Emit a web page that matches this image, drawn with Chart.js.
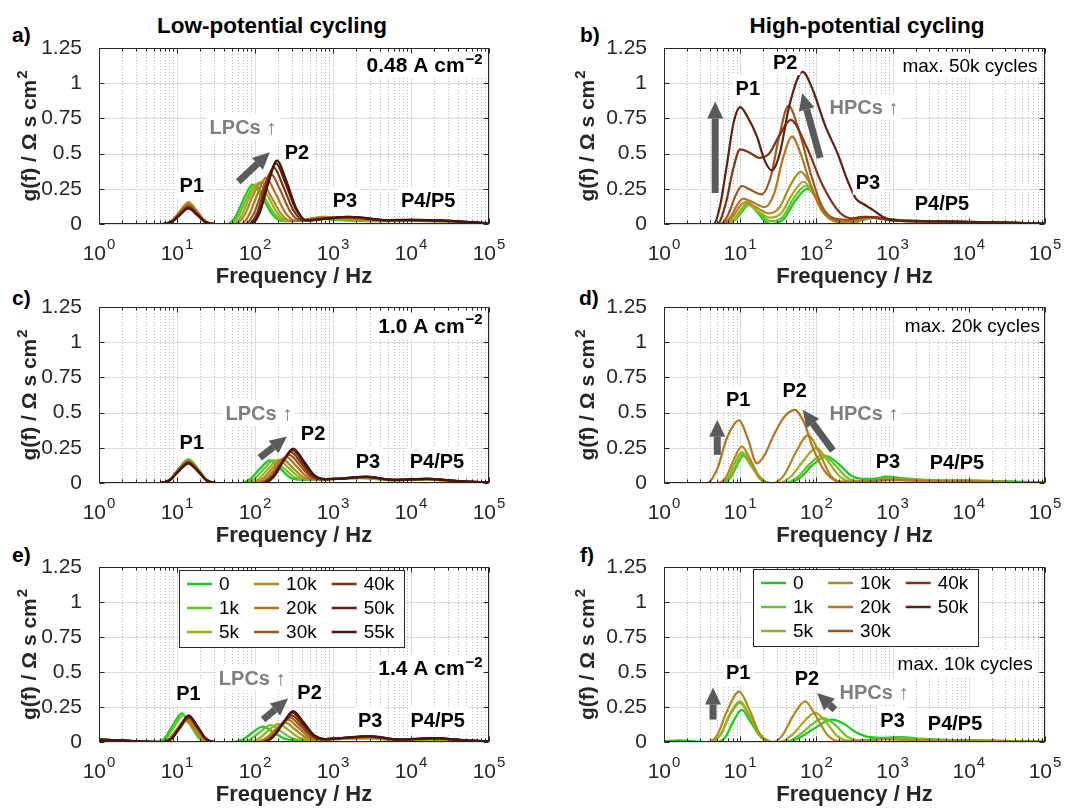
<!DOCTYPE html>
<html>
<head>
<meta charset="utf-8">
<script src="https://cdn.jsdelivr.net/npm/chart.js@4.4.1/dist/chart.umd.min.js"></script>
<style>
body{margin:0;width:1074px;height:808px;overflow:hidden;background:#fff;font-family:"Liberation Sans",Arial,sans-serif}
canvas{position:absolute}
.hd{position:absolute;font-weight:bold;font-size:22.5px;color:#000;white-space:nowrap;transform:translate(-50%,-50%)}
.lt{position:absolute;font-weight:bold;font-size:21px;color:#000;transform:translateY(-50%)}
</style>
</head>
<body>
<div class="hd" style="left:272px;top:26px">Low-potential cycling</div>
<div class="hd" style="left:867px;top:26px">High-potential cycling</div>
<div class="lt" style="left:12px;top:35px">a)</div>
<div class="lt" style="left:580px;top:35px">b)</div>
<div class="lt" style="left:12px;top:298px">c)</div>
<div class="lt" style="left:579px;top:298px">d)</div>
<div class="lt" style="left:12px;top:555px">e)</div>
<div class="lt" style="left:580px;top:555px">f)</div>
<script>
const FONT = '"Liberation Sans", Arial, sans-serif'

// axis ticks
const freqTicks = [1, 10, 100, 1000, 10000, 100000]
const freqExp = ['0', '1', '2', '3', '4', '5']
const gTicks = [0, 0.25, 0.5, 0.75, 1, 1.25]
const gTickLabels = ['0', '0.25', '0.5', '0.75', '1', '1.25']
const xTitle = 'Frequency / Hz'
const yTitle = ['g(f) / Ω s cm', '2']

// cycle numbers and colours (green -> dark brown)
const cycles = ['0', '1k', '5k', '10k', '20k', '30k', '40k', '50k', '55k']
const cycleColors = ['#1ec81e', '#62c62a', '#9fae1c', '#b08a1e', '#b5741f', '#9c5620', '#7e3516', '#5e200f', '#4a140c']

// DRT curves: [frequency in Hz, g(f)], one row per cycle number

// a) low-potential cycling, 0.48 A cm-2
const drtA = [
[[1,0],[6.5,0],[8.5,.018],[11,.084],[14,.14],[18,.084],[23,.018],[31,0],[44,0],[56,.05],[72,.18],[93,.28],[123,.19],[166,.07],[224,.02],[400,.025],[630,.04],[1000,.03],[2000,.022],[4000,.02],[10000,.022],[25000,.018],[50000,.01],[100000,.003]],
[[1,0],[6.5,0],[8.5,.02],[11,.09],[14,.15],[18,.09],[23,.02],[31,0],[47,0],[60,.05],[78,.18],[100,.28],[132,.19],[178,.07],[240,.02],[450,.03],[700,.045],[1100,.035],[2000,.025],[4000,.021],[10000,.023],[25000,.019],[50000,.01],[100000,.003]],
[[1,0],[6.5,0],[8.5,.02],[11,.093],[14,.155],[18,.093],[23,.02],[31,0],[51,0],[66,.052],[85,.19],[110,.29],[145,.2],[195,.073],[263,.02],[480,.035],[750,.05],[1200,.04],[2000,.03],[4000,.022],[10000,.024],[25000,.02],[50000,.011],[100000,.004]],
[[1,0],[6.5,0],[8.5,.02],[11,.09],[14,.15],[18,.09],[23,.02],[31,0],[56,0],[72,.055],[93,.195],[120,.30],[159,.2],[214,.075],[288,.02],[500,.035],[800,.05],[1300,.04],[2000,.032],[4000,.023],[10000,.025],[25000,.021],[50000,.012],[100000,.004]],
[[1,0],[6.5,0],[8.5,.018],[11,.084],[14,.14],[18,.084],[23,.018],[31,0],[65,0],[83,.06],[107,.21],[138,.33],[182,.22],[245,.08],[331,.022],[600,.04],[1000,.045],[1500,.045],[2500,.032],[5000,.024],[10000,.026],[25000,.022],[50000,.012],[100000,.004]],
[[1,0],[6.5,0],[8.5,.017],[11,.078],[14,.13],[18,.078],[23,.017],[31,0],[74,0],[95,.065],[123,.23],[158,.36],[209,.245],[282,.09],[380,.025],[700,.04],[1200,.045],[1800,.046],[3000,.033],[5000,.025],[10000,.027],[25000,.023],[50000,.013],[100000,.004]],
[[1,0],[6.5,0],[8.5,.016],[11,.072],[14,.12],[18,.072],[23,.016],[31,0],[81,0],[105,.07],[135,.26],[174,.40],[229,.27],[309,.10],[417,.025],[800,.04],[1400,.048],[2000,.046],[3000,.036],[5000,.026],[10000,.028],[25000,.024],[50000,.014],[100000,.005]],
[[1,0],[6.5,0],[8.5,.015],[11,.069],[14,.115],[18,.069],[23,.015],[31,0],[87,0],[112,.077],[145,.28],[186,.43],[245,.29],[331,.11],[447,.025],[900,.04],[1500,.05],[2000,.048],[3000,.037],[5000,.027],[10000,.029],[25000,.025],[50000,.015],[100000,.005]],
[[1,0],[6.5,0],[8.5,.014],[11,.066],[14,.11],[18,.066],[23,.014],[31,0],[89,0],[115,.08],[148,.29],[191,.45],[251,.31],[339,.11],[457,.025],[900,.04],[1600,.05],[2200,.048],[3200,.036],[5000,.028],[10000,.03],[25000,.026],[50000,.015],[100000,.005]]
]

// b) high-potential cycling, max. 50k cycles
const drtB = [
[[1,0],[6,0],[9,.04],[11,.1],[13,.135],[17,.08],[21,.02],[26,0],[38,.04],[52,.16],[76,.25],[100,.19],[135,.07],[190,.015],[280,.005],[420,.03],[600,.045],[850,.035],[1200,.03],[2000,.022],[5000,.015],[10000,.013],[30000,.01],[100000,.003]],
[[1,0],[6,0],[9,.04],[11,.11],[13,.14],[17,.09],[25,.02],[36,.05],[50,.18],[72,.27],[95,.2],[130,.07],[180,.015],[270,.005],[420,.035],[580,.045],[800,.035],[1200,.028],[2000,.02],[5000,.014],[10000,.013],[30000,.01],[100000,.003]],
[[1,0],[6,0],[8.5,.04],[10.5,.11],[12.5,.145],[16,.1],[25,.045],[35,.08],[48,.21],[68,.30],[90,.22],[120,.09],[170,.02],[260,.005],[420,.035],[550,.045],[750,.035],[1200,.027],[2000,.02],[5000,.014],[10000,.013],[30000,.01],[100000,.003]],
[[1,0],[5.5,0],[8,.05],[10,.13],[12,.155],[16,.12],[24,.075],[33,.12],[45,.27],[62,.37],[80,.3],[110,.13],[160,.03],[250,.01],[400,.035],[550,.05],[750,.035],[1000,.025],[2000,.018],[5000,.014],[10000,.013],[30000,.01],[100000,.003]],
[[1,0],[5.5,0],[7.5,.05],[9,.13],[11,.18],[14,.16],[21,.12],[28,.22],[37,.48],[48,.62],[62,.5],[85,.27],[120,.09],[170,.03],[280,.02],[450,.045],[650,.04],[1000,.025],[2000,.018],[5000,.015],[10000,.013],[30000,.01],[100000,.003]],
[[1,0],[5.5,0],[7,.07],[8.5,.19],[10.5,.27],[14,.24],[19,.21],[25,.33],[33,.64],[43,.84],[60,.65],[85,.35],[120,.12],[170,.04],[260,.03],[400,.05],[600,.045],[900,.03],[2000,.02],[5000,.016],[10000,.014],[30000,.01],[100000,.003]],
[[1,0],[5,0],[6.5,.15],[8,.38],[10,.53],[13,.51],[18,.47],[24,.5],[32,.62],[46,.74],[74,.55],[122,.27],[204,.08],[300,.04],[450,.05],[650,.045],[1000,.025],[2000,.02],[5000,.017],[10000,.015],[30000,.01],[100000,.003]],
[[1,0],[4.5,0],[5.4,.12],[6.6,.4],[8.2,.72],[10,.83],[12.5,.76],[16.6,.62],[21,.45],[26,.38],[33,.5],[45,.86],[66,1.08],[90,.95],[130,.7],[190,.5],[260,.3],[330,.18],[420,.14],[550,.1],[750,.05],[1000,.03],[2000,.022],[5000,.018],[10000,.015],[30000,.01],[100000,.003]]
]

// c) low-potential cycling, 1.0 A cm-2
const drtC = [
[[1,0],[6,0],[8,.022],[10.5,.102],[14,.17],[18.5,.102],[24,.022],[32,0],[65,0],[87,.029],[117,.104],[155,.16],[209,.104],[288,.035],[407,.022],[900,.03],[2200,.035],[6000,.02],[15000,.025],[40000,.01],[100000,.003]],
[[1,0],[6,0],[8,.021],[10.5,.099],[14,.165],[18.5,.099],[24,.021],[32,0],[72,0],[98,.029],[132,.104],[174,.16],[234,.104],[324,.04],[457,.025],[950,.03],[2300,.037],[6000,.02],[15000,.026],[40000,.011],[100000,.003]],
[[1,0],[6,0],[8,.021],[10.5,.096],[14,.16],[18.5,.096],[24,.021],[32,0],[83,0],[112,.03],[151,.107],[200,.165],[269,.107],[372,.04],[525,.025],[1000,.03],[2400,.038],[6000,.021],[15000,.027],[40000,.012],[100000,.003]],
[[1,0],[6,0],[8,.021],[10.5,.096],[14,.16],[18.5,.096],[24,.021],[32,0],[93,0],[126,.031],[170,.11],[224,.17],[302,.11],[417,.04],[589,.025],[1000,.03],[2500,.04],[6000,.021],[15000,.028],[40000,.012],[100000,.003]],
[[1,0],[6,0],[8,.02],[10.5,.093],[14,.155],[18.5,.093],[24,.02],[32,0],[105,0],[141,.033],[191,.12],[251,.185],[339,.12],[468,.042],[661,.025],[1100,.03],[2500,.041],[6000,.021],[16000,.028],[40000,.013],[100000,.004]],
[[1,0],[6,0],[8,.02],[10.5,.09],[14,.15],[18.5,.09],[24,.02],[32,0],[115,0],[155,.036],[209,.13],[275,.20],[372,.13],[513,.046],[724,.026],[1100,.03],[2600,.042],[6000,.022],[16000,.029],[40000,.013],[100000,.004]],
[[1,0],[6,0],[8,.019],[10.5,.087],[14,.145],[18.5,.087],[24,.019],[32,0],[120,0],[162,.04],[219,.143],[288,.22],[389,.143],[537,.05],[759,.026],[1200,.03],[2600,.043],[6000,.022],[16000,.029],[40000,.014],[100000,.004]],
[[1,0],[6,0],[8,.018],[10.5,.084],[14,.14],[18.5,.084],[24,.018],[32,0],[126,0],[170,.042],[229,.153],[302,.235],[407,.153],[562,.054],[794,.027],[1200,.03],[2700,.044],[6000,.022],[16000,.03],[40000,.014],[100000,.004]],
[[1,0],[6,0],[8,.018],[10.5,.084],[14,.14],[18.5,.084],[24,.018],[32,0],[129,0],[174,.044],[234,.16],[309,.245],[417,.16],[575,.056],[813,.027],[1200,.03],[2700,.045],[6000,.022],[16000,.03],[40000,.014],[100000,.004]]
]

// d) high-potential cycling, max. 20k cycles
const drtD = [
[[1,0],[5.5,0],[7.5,.04],[9,.12],[11,.195],[14,.12],[19,.03],[25,0],[42,0],[62,.04],[90,.13],[138,.19],[200,.13],[290,.05],[400,.03],[550,.03],[850,.045],[1300,.035],[3000,.02],[10000,.018],[30000,.012],[100000,.003]],
[[1,0],[5.5,0],[7.5,.04],[9,.13],[11,.21],[14,.13],[19,.03],[25,0],[38,0],[56,.04],[80,.13],[122,.20],[175,.13],[250,.04],[350,.015],[550,.02],[850,.035],[1300,.03],[3000,.018],[10000,.015],[30000,.01],[100000,.002]],
[[1,0],[5.5,0],[7,.04],[8.5,.14],[10.5,.22],[13.5,.14],[18,.03],[24,0],[32,0],[47,.05],[68,.16],[100,.25],[140,.16],[200,.05],[280,.012],[500,.015],[850,.03],[1300,.025],[3000,.015],[10000,.013],[30000,.008],[100000,.002]],
[[1,0],[5,0],[6.5,.04],[8,.15],[10.5,.26],[13.5,.17],[18,.04],[24,0],[27,0],[38,.06],[54,.22],[78,.34],[108,.22],[155,.05],[220,.01],[400,.01],[800,.025],[1300,.02],[3000,.013],[10000,.012],[30000,.008],[100000,.002]],
[[1,0],[3.7,0],[5,.1],[6.7,.32],[9.7,.445],[12.5,.32],[16.6,.14],[21,.2],[27,.33],[38,.47],[52,.52],[70,.42],[90,.25],[130,.08],[180,.015],[250,.003],[500,.01],[800,.02],[1300,.02],[3000,.012],[10000,.01],[30000,.007],[100000,.002]]
]

// e) low-potential cycling, 1.4 A cm-2
const drtE = [
[[1,.012],[2,.008],[3.5,.002],[5.4,0],[6.9,.027],[8.9,.123],[11.5,.205],[14.8,.123],[19.1,.027],[24.5,0],[52,0],[71,.02],[95,.072],[126,.11],[170,.072],[234,.026],[331,.012],[1000,.02],[3000,.025],[7000,.012],[20000,.018],[50000,.008],[100000,.004]],
[[1,.014],[2,.009],[3.5,.002],[5.6,0],[7.2,.025],[9.3,.114],[12,.19],[15.5,.114],[20,.025],[25.7,0],[66,0],[89,.022],[120,.078],[158,.12],[214,.078],[295,.028],[417,.014],[1000,.02],[3000,.027],[7000,.013],[20000,.019],[50000,.009],[100000,.004]],
[[1,.015],[2,.01],[3.5,.003],[6,0],[7.8,.02],[10,.093],[12.9,.155],[16.6,.093],[21.4,.02],[27.5,0],[83,0],[112,.023],[151,.085],[200,.13],[269,.085],[372,.03],[525,.015],[1000,.021],[3000,.03],[7000,.014],[20000,.021],[50000,.009],[100000,.004]],
[[1,.015],[2,.01],[3.5,.003],[6,0],[7.8,.02],[10,.09],[12.9,.15],[16.6,.09],[21.4,.02],[27.5,0],[100,0],[135,.025],[182,.091],[240,.14],[324,.091],[447,.032],[631,.016],[1000,.022],[3000,.032],[7000,.015],[20000,.022],[50000,.01],[100000,.004]],
[[1,.016],[2,.01],[3.5,.003],[6.3,0],[8.1,.021],[10.5,.096],[13.5,.16],[17.4,.096],[22.4,.021],[28.8,0],[110,0],[148,.029],[200,.104],[263,.16],[355,.104],[490,.036],[692,.018],[1000,.023],[3000,.035],[7000,.016],[20000,.024],[50000,.01],[100000,.004]],
[[1,.016],[2,.011],[3.5,.003],[6.6,0],[8.5,.022],[11,.102],[14.1,.17],[18.2,.102],[23.4,.022],[30.2,0],[117,0],[158,.032],[214,.114],[282,.175],[380,.114],[525,.04],[741,.02],[1050,.024],[3000,.037],[7000,.017],[20000,.025],[50000,.011],[100000,.004]],
[[1,.017],[2,.011],[3.5,.003],[6.6,0],[8.5,.023],[11,.105],[14.1,.175],[18.2,.105],[23.4,.023],[30.2,0],[123,0],[166,.034],[224,.124],[295,.19],[398,.124],[550,.043],[776,.02],[1100,.024],[3000,.039],[7000,.017],[20000,.026],[50000,.011],[100000,.004]],
[[1,.017],[2,.011],[3.5,.003],[6.6,0],[8.5,.024],[11,.111],[14.1,.185],[18.2,.111],[23.4,.024],[30.2,0],[126,0],[170,.038],[229,.137],[302,.21],[407,.137],[562,.047],[794,.021],[1100,.025],[3000,.041],[7000,.018],[20000,.027],[50000,.012],[100000,.004]],
[[1,.018],[2,.012],[3.5,.003],[6.6,0],[8.5,.025],[11,.114],[14.1,.19],[18.2,.114],[23.4,.025],[30.2,0],[129,0],[174,.04],[234,.143],[309,.22],[417,.143],[575,.049],[813,.021],[1100,.025],[3000,.042],[7000,.018],[20000,.028],[50000,.012],[100000,.004]]
]

// f) high-potential cycling, max. 10k cycles
const drtF = [
[[1,.005],[1.6,.012],[2.5,.005],[3.5,0],[5,0],[6.5,.04],[8,.14],[10.5,.23],[13.5,.15],[19,.03],[27,0],[55,.02],[90,.09],[160,.16],[230,.13],[330,.07],[500,.035],[800,.03],[1300,.035],[2200,.025],[5000,.015],[10000,.012],[30000,.008],[100000,.002]],
[[1,0],[4,0],[5.5,.05],[7.3,.19],[10,.28],[13.5,.17],[19,.035],[27,0],[40,0],[60,.05],[85,.12],[122,.17],[170,.13],[250,.04],[380,.01],[600,.02],[1000,.03],[1600,.025],[4000,.014],[10000,.012],[30000,.007],[100000,.002]],
[[1,0],[4,0],[5.5,.05],[7.3,.2],[10,.29],[13.5,.18],[19,.04],[26,0],[33,0],[50,.06],[70,.15],[96,.21],[130,.15],[190,.04],[280,.008],[500,.015],[900,.025],[1500,.02],[4000,.012],[10000,.01],[30000,.006],[100000,.002]],
[[1,0],[3.7,0],[5,.05],[6.7,.22],[9.7,.36],[13,.24],[18,.06],[24,.005],[27,0],[35,.04],[50,.19],[71,.29],[95,.2],[140,.05],[200,.005],[400,.01],[800,.02],[1500,.015],[4000,.01],[10000,.01],[30000,.006],[100000,.002]]
]

// layout of the 3x2 grid (pixels)
const colGeom = [
  {left: 0, width: 520, axisW: 99, padR: 31, yTitleX: 28},
  {left: 540, width: 534, axisW: 124, padR: 29, yTitleX: 46}
]
const rowGeom = [
  {plotTop: 48, plotH: 176},
  {plotTop: 307, plotH: 176},
  {plotTop: 567, plotH: 175}
]
const PAD_TOP = 40
const X_AXIS_H = 66

// notes: [text, frequency, g, style, superscript]
const panels = [
  {series: drtA, col: 0, row: 0,
   notes: [['P1',15.5,.28,'peak'],['P2',345,.51,'peak'],['P3',1420,.17,'peak'],['P4/P5',16600,.17,'peak'],['0.48 A cm',83000,1.13,'cond','−2'],['LPCs ↑',70,.69,'trend']],
   arrows: [[61,.30,155,.51]]},
  {series: drtB, col: 1, row: 0,
   notes: [['P1',12.6,.97,'peak'],['P2',39,1.15,'peak'],['P3',475,.30,'peak'],['P4/P5',4450,.15,'peak'],['max. 50k cycles',80000,1.13,'max'],['HPCs ↑',420,.83,'trend']],
   arrows: [[4.7,.22,4.7,.87],[112,.47,65,.93]]},
  {series: drtC, col: 0, row: 1,
   notes: [['P1',15.5,.29,'peak'],['P2',555,.355,'peak'],['P3',2800,.16,'peak'],['P4/P5',21500,.16,'peak'],['1.0 A cm',83000,1.12,'cond','−2'],['LPCs ↑',112,.50,'trend']],
   arrows: [[115,.18,257,.33]]},
  {series: drtD, col: 1, row: 1,
   notes: [['P1',9.4,.60,'peak'],['P2',52,.66,'peak'],['P3',870,.16,'peak'],['P4/P5',7000,.15,'peak'],['max. 20k cycles',86000,1.12,'max'],['HPCs ↑',420,.50,'trend']],
   arrows: [[5,.20,5,.45],[165,.23,66,.52]]},
  {series: drtE, col: 0, row: 2,
   notes: [['P1',14,.35,'peak'],['P2',500,.36,'peak'],['P3',3000,.16,'peak'],['P4/P5',22000,.16,'peak'],['1.4 A cm',83000,.53,'cond','−2'],['LPCs ↑',92,.46,'trend']],
   arrows: [[127,.16,265,.31]],
   legend: {dx: 80, dy: 3, labels: cycles}},
  {series: drtF, col: 1, row: 2,
   notes: [['P1',9.4,.50,'peak'],['P2',75,.46,'peak'],['P3',1000,.16,'peak'],['P4/P5',6600,.14,'peak'],['max. 10k cycles',69000,.56,'max'],['HPCs ↑',570,.36,'trend']],
   arrows: [[4.4,.16,4.4,.39],[175,.23,102,.35]],
   legend: {dx: 89, dy: 2, labels: cycles.slice(0, 8)}}
]

const noteStyles = {
  peak: {size: 20, weight: 'bold', color: '#000', align: 'center'},
  cond: {size: 21, weight: 'bold', color: '#000', align: 'right'},
  max: {size: 19, weight: 'normal', color: '#000', align: 'right'},
  trend: {size: 20, weight: 'bold', color: '#7f7f7f', align: 'center'}
}

// text with an optional raised superscript; returns width
function richWidth(ctx, base, sup, size, weight, supSize){
  ctx.font = weight + ' ' + size + 'px ' + FONT
  let w = ctx.measureText(base).width
  if (sup){
    ctx.font = weight + ' ' + supSize + 'px ' + FONT
    w += ctx.measureText(sup).width + 1
  }
  return w
}
function drawRich(ctx, base, sup, left, baseline, size, weight, supSize, rise){
  ctx.textAlign = 'left'
  ctx.textBaseline = 'alphabetic'
  ctx.font = weight + ' ' + size + 'px ' + FONT
  ctx.fillText(base, left, baseline)
  if (sup){
    const w = ctx.measureText(base).width
    ctx.font = weight + ' ' + supSize + 'px ' + FONT
    ctx.fillText(sup, left + w + 1, baseline - rise)
  }
}

function drawArrow(ctx, x1, y1, x2, y2){
  const ang = Math.atan2(y2 - y1, x2 - x1)
  const headL = 17, headW = 16
  const bx = x2 - headL * Math.cos(ang), by = y2 - headL * Math.sin(ang)
  ctx.strokeStyle = '#5b5b5b'
  ctx.fillStyle = '#5b5b5b'
  ctx.lineWidth = 7
  ctx.beginPath(); ctx.moveTo(x1, y1); ctx.lineTo(bx, by); ctx.stroke()
  ctx.beginPath()
  ctx.moveTo(x2, y2)
  ctx.lineTo(bx + headW / 2 * Math.sin(ang), by - headW / 2 * Math.cos(ang))
  ctx.lineTo(bx - headW / 2 * Math.sin(ang), by + headW / 2 * Math.cos(ang))
  ctx.closePath(); ctx.fill()
}

function deco(panel, cg){
  return {
    id: 'deco',
    beforeDatasetsDraw(chart){
      const {ctx, chartArea: a, scales: {x, y}} = chart
      ctx.save()
      ctx.lineWidth = 1
      // minor (dotted) frequency grid
      ctx.strokeStyle = '#b9b9b9'
      ctx.setLineDash([1, 2])
      for (let e = 0; e < 5; e++){
        for (let m = 2; m < 10; m++){
          const px = Math.round(x.getPixelForValue(m * Math.pow(10, e))) + 0.5
          ctx.beginPath(); ctx.moveTo(px, a.top); ctx.lineTo(px, a.bottom); ctx.stroke()
        }
      }
      // major grid
      ctx.setLineDash([])
      ctx.strokeStyle = '#dcdcdc'
      freqTicks.forEach(v => {
        const px = Math.round(x.getPixelForValue(v)) + 0.5
        ctx.beginPath(); ctx.moveTo(px, a.top); ctx.lineTo(px, a.bottom); ctx.stroke()
      })
      gTicks.forEach(v => {
        const py = Math.round(y.getPixelForValue(v)) + 0.5
        ctx.beginPath(); ctx.moveTo(a.left, py); ctx.lineTo(a.right, py); ctx.stroke()
      })
      ctx.restore()
    },
    afterDatasetsDraw(chart){
      const {ctx, chartArea: a, scales: {x, y}} = chart
      ctx.save()
      // arrows
      panel.arrows.forEach(([f1, g1, f2, g2]) => {
        drawArrow(ctx, x.getPixelForValue(f1), y.getPixelForValue(g1), x.getPixelForValue(f2), y.getPixelForValue(g2))
      })
      // text notes with white background
      panel.notes.forEach(([t, f, g, kind, sup]) => {
        const st = noteStyles[kind]
        const supSize = Math.round(st.size * 0.7)
        const w = richWidth(ctx, t, sup, st.size, st.weight, supSize)
        const px = x.getPixelForValue(f), py = y.getPixelForValue(g)
        const left = st.align === 'right' ? px - w : px - w / 2
        ctx.fillStyle = '#fff'
        ctx.fillRect(left - 3, py - 13, w + 6, 26)
        ctx.fillStyle = st.color
        drawRich(ctx, t, sup, left, py + st.size * 0.36, st.size, st.weight, supSize, st.size * 0.42)
      })
      // axes box and inner tick marks
      ctx.strokeStyle = '#262626'
      ctx.lineWidth = 1
      const L = Math.round(a.left) + 0.5, R = Math.round(a.right) - 0.5
      const T = Math.round(a.top) + 0.5, B = Math.round(a.bottom) - 0.5
      ctx.strokeRect(L, T, R - L, B - T)
      ctx.beginPath()
      for (let e = 0; e <= 5; e++){
        for (let m = 1; m < 10; m++){
          const v = m * Math.pow(10, e)
          if (v > 100000) break
          const px = Math.round(x.getPixelForValue(v)) + 0.5
          const len = m === 1 ? 5 : 3
          ctx.moveTo(px, B); ctx.lineTo(px, B - len)
          ctx.moveTo(px, T); ctx.lineTo(px, T + len)
        }
      }
      gTicks.forEach(v => {
        const py = Math.round(y.getPixelForValue(v)) + 0.5
        ctx.moveTo(L, py); ctx.lineTo(L + 5, py)
        ctx.moveTo(R, py); ctx.lineTo(R - 5, py)
      })
      ctx.stroke()
      // frequency tick labels 10^n
      ctx.fillStyle = '#262626'
      freqTicks.forEach((v, i) => {
        const w = richWidth(ctx, '10', freqExp[i], 21, 'normal', 15)
        drawRich(ctx, '10', freqExp[i], x.getPixelForValue(v) - w / 2, a.bottom + 36, 21, 'normal', 15, 11)
      })
      // y axis title (rotated, with superscript)
      const yw = richWidth(ctx, yTitle[0], yTitle[1], 21, 'bold', 15)
      ctx.save()
      ctx.translate(cg.yTitleX, (a.top + a.bottom) / 2)
      ctx.rotate(-Math.PI / 2)
      drawRich(ctx, yTitle[0], yTitle[1], -yw / 2, 7.5, 21, 'bold', 15, 9)
      ctx.restore()
      // legend box (column-major, 3 rows)
      const lg = panel.legend
      if (lg){
        ctx.font = '19px ' + FONT
        const rows = 3
        const nCols = Math.ceil(lg.labels.length / rows)
        const colX = []
        let cx = 8
        for (let c = 0; c < nCols; c++){
          colX.push(cx)
          let mw = 0
          for (let r = 0; r < rows; r++){
            const lab = lg.labels[c * rows + r]
            if (lab) mw = Math.max(mw, ctx.measureText(lab).width)
          }
          cx += 25 + 7 + mw + 15
        }
        const bw = cx - 15 + 10, bh = 77
        const bx = a.left + lg.dx, by = a.top + lg.dy
        ctx.fillStyle = '#fff'
        ctx.fillRect(bx, by, bw, bh)
        ctx.strokeStyle = '#262626'
        ctx.lineWidth = 1
        ctx.strokeRect(Math.round(bx) + 0.5, Math.round(by) + 0.5, Math.round(bw), bh)
        ctx.textAlign = 'left'
        ctx.textBaseline = 'middle'
        lg.labels.forEach((lab, i) => {
          const c = Math.floor(i / rows), r = i % rows
          const ly = by + 14 + r * 24
          const lx = bx + colX[c]
          ctx.strokeStyle = cycleColors[i]
          ctx.lineWidth = 2.5
          ctx.beginPath(); ctx.moveTo(lx, ly); ctx.lineTo(lx + 25, ly); ctx.stroke()
          ctx.fillStyle = '#000'
          ctx.font = '19px ' + FONT
          ctx.fillText(lab, lx + 32, ly + 1)
        })
      }
      ctx.restore()
    }
  }
}

panels.forEach(p => {
  const cg = colGeom[p.col], rg = rowGeom[p.row]
  const canvas = document.createElement('canvas')
  canvas.width = cg.width
  canvas.height = PAD_TOP + rg.plotH + X_AXIS_H
  canvas.style.left = cg.left + 'px'
  canvas.style.top = (rg.plotTop - PAD_TOP) + 'px'
  document.body.appendChild(canvas)

  const n = p.series.length
  new Chart(canvas.getContext('2d'), {
    type: 'line',
    data: {
      datasets: p.series.map((pts, i) => ({
        label: cycles[i],
        data: pts.map(([f, g]) => ({x: f, y: g})),
        borderColor: cycleColors[i],
        borderWidth: 2.2,
        pointRadius: 0,
        fill: false,
        cubicInterpolationMode: 'monotone',
        order: n - i
      }))
    },
    options: {
      responsive: false,
      animation: false,
      devicePixelRatio: 1,
      layout: {padding: {top: PAD_TOP, right: cg.padR, left: 0, bottom: 0}},
      plugins: {legend: {display: false}, tooltip: {enabled: false}},
      scales: {
        x: {
          type: 'logarithmic',
          min: 1,
          max: 100000,
          grid: {display: false},
          border: {display: false},
          afterBuildTicks: s => { s.ticks = freqTicks.map(v => ({value: v})) },
          afterFit: s => { s.height = X_AXIS_H },
          ticks: {display: false},
          title: {display: true, text: xTitle, color: '#262626', font: {family: FONT, size: 22, weight: 'bold'}, padding: {top: 0, bottom: 0}}
        },
        y: {
          min: 0,
          max: 1.25,
          grid: {display: false},
          border: {display: false},
          afterBuildTicks: s => { s.ticks = gTicks.map(v => ({value: v})) },
          afterFit: s => { s.width = cg.axisW },
          ticks: {
            padding: 9,
            color: '#262626',
            font: {family: FONT, size: 21},
            callback: v => {
              const k = gTicks.indexOf(v)
              return k >= 0 ? gTickLabels[k] : ''
            }
          },
          title: {display: false}
        }
      }
    },
    plugins: [deco(p, cg)]
  })
})
</script>
</body>
</html>
